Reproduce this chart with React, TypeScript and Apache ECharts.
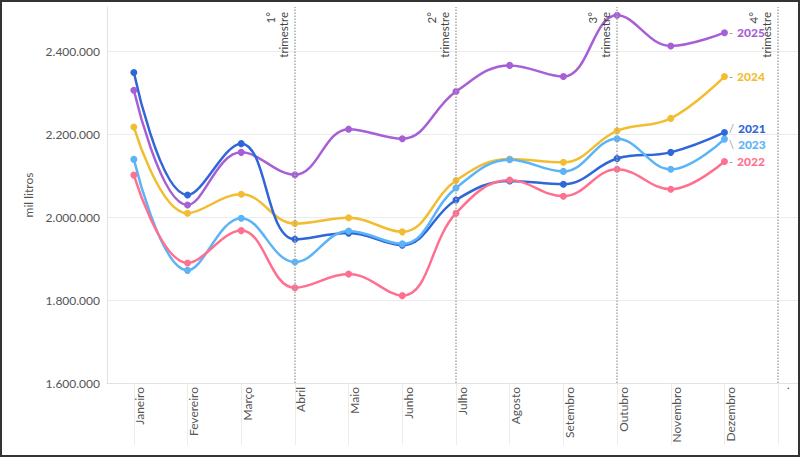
import React, { useEffect, useRef } from "react";
import * as echarts from "echarts";

const months = ["Janeiro", "Fevereiro", "Março", "Abril", "Maio", "Junho", "Julho", "Agosto", "Setembro", "Outubro", "Novembro", "Dezembro", "."];
const years = ["2025", "2024", "2021", "2023", "2022"];
const v2025 = [2307000, 2030000, 2157000, 2103000, 2213000, 2190000, 2304000, 2367000, 2340000, 2488000, 2414000, 2446000];
const v2024 = [2218000, 2010000, 2056000, 1985000, 1999000, 1965000, 2089000, 2141000, 2133000, 2209000, 2239000, 2340000];
const v2021 = [2350000, 2054000, 2178000, 1947000, 1962000, 1933000, 2042000, 2088000, 2080000, 2142000, 2157000, 2205000];
const v2023 = [2140000, 1872000, 1998000, 1892000, 1967000, 1936000, 2071000, 2139000, 2111000, 2190000, 2116000, 2189000];
const v2022 = [2102000, 1890000, 1968000, 1830000, 1863000, 1811000, 2010000, 2090000, 2051000, 2116000, 2068000, 2135000];
const seriesValues = [v2025, v2024, v2021, v2023, v2022];
const colors = ["#a75fd5", "#f2bd32", "#2f67d8", "#5bb4f7", "#ff7090"];
const connectors = ["-", "-", "/", "\\", "-"];
const labelOffsets = [[0, 0], [0, 0], [0, -4], [0, 5], [0, 0]];
const quarterMonths = ["Abril", "Julho", "Outubro", "."];
const quarterLabels = ["1°\ntrimestre", "2°\ntrimestre", "3°\ntrimestre", "4°\ntrimestre"];
const yTicks = { min: 1600000, max: 2508000, interval: 200000 };

const fmt = (v: number) => String(Math.round(v)).replace(/\B(?=(\d{3})+(?!\d))/g, ".");
const FONT = "Lato";

export default function App() {
  const ref = useRef<HTMLDivElement>(null);
  useEffect(() => {
    if (!ref.current) return;
    const chart = echarts.init(ref.current, undefined, { renderer: "svg" });
    const series: any[] = seriesValues.map((vals, si) => ({
      name: years[si],
      type: "line",
      smooth: 0.4,
      symbol: "circle",
      symbolSize: 7,
      z: 3,
      lineStyle: { width: 2.5, color: colors[si] },
      itemStyle: { color: colors[si] },
      data: vals.map((v, i) =>
        i === vals.length - 1
          ? {
              value: v,
              label: {
                show: true,
                position: "right",
                distance: 1,
                offset: labelOffsets[si],
                formatter: `{d|${connectors[si]}}{y|${years[si]}}`,
                rich: {
                  d: { color: "#9a9a9a", fontSize: 11, fontFamily: FONT, padding: [0, 4, 0, 0] },
                  y: { color: colors[si], fontSize: 12, fontWeight: 900, fontFamily: FONT },
                },
              },
            }
          : v
      ),
    }));
    series.push({
      type: "line",
      data: [],
      silent: true,
      markLine: {
        silent: true,
        symbol: ["none", "none"],
        z: 5,
        lineStyle: { type: "dotted", color: "#a8a8a8", width: 1.5 },
        label: {
          show: true,
          position: "insideEndTop",
          formatter: (p: any) => p.name,
          color: "#444",
          fontSize: 11.5,
          lineHeight: 13,
          fontFamily: FONT,
          distance: 5,
        },
        data: quarterMonths.map((m, i) => ({ xAxis: m, name: quarterLabels[i] })),
      },
    });
    chart.setOption({
      animation: false,
      backgroundColor: "#ffffff",
      textStyle: { fontFamily: FONT },
      grid: { left: 107, right: 0, top: 7, bottom: 74, containLabel: false },
      xAxis: {
        type: "category",
        boundaryGap: true,
        data: months,
        axisLine: { show: true, lineStyle: { color: "#e2e2e2", width: 1 } },
        axisTick: { show: true, alignWithLabel: true, length: 62, lineStyle: { color: "#ececec" } },
        axisLabel: {
          rotate: 90,
          verticalAlign: "top",
          margin: 4,
          color: "#555",
          fontSize: 12,
          fontFamily: FONT,
          interval: 0,
        },
        splitLine: { show: false },
      },
      yAxis: {
        type: "value",
        min: yTicks.min,
        max: yTicks.max,
        interval: yTicks.interval,
        name: "mil litros",
        nameLocation: "middle",
        nameGap: 72,
        nameTextStyle: { color: "#555", fontSize: 12, fontFamily: FONT },
        axisLine: { show: true, lineStyle: { color: "#e2e2e2" } },
        axisTick: { show: false },
        axisLabel: { color: "#555", fontSize: 12, fontFamily: FONT, margin: 7, showMaxLabel: false, formatter: fmt },
        splitLine: { show: true, showMaxLine: false, showMinLine: false, lineStyle: { color: "#ececec" } },
      },
      series,
    });
    return () => chart.dispose();
  }, []);
  return (
    <div style={{ position: "absolute", left: 0, top: 0, width: 800, height: 457, background: "#fff", overflow: "hidden" }}>
      <div ref={ref} style={{ width: 805, height: 457 }} />
      <div
        style={{
          position: "absolute",
          left: 0,
          top: 0,
          width: 800,
          height: 457,
          boxSizing: "border-box",
          border: "2px solid #333",
          pointerEvents: "none",
        }}
      />
    </div>
  );
}
